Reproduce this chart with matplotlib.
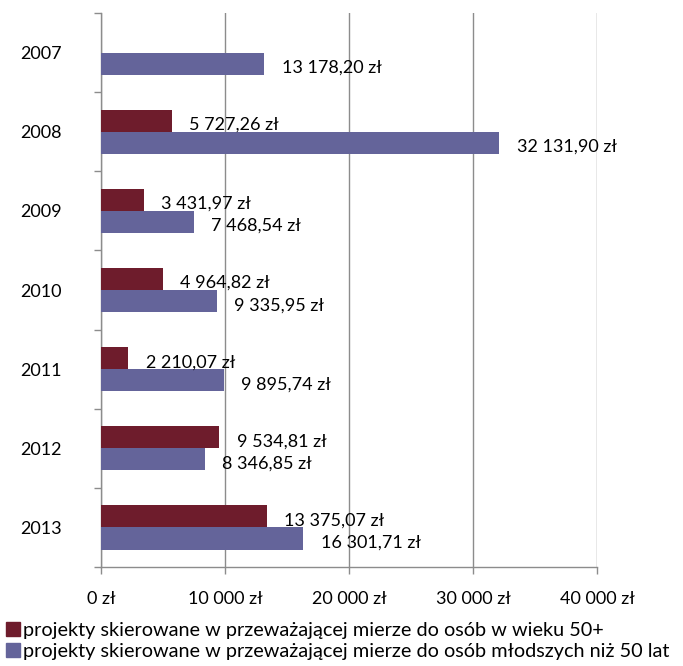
import matplotlib
matplotlib.use("Agg")
import matplotlib.pyplot as plt
from matplotlib.ticker import FuncFormatter, FixedLocator
from matplotlib.patches import Patch
import numpy as np

plt.rcParams['font.family'] = ['Lato', 'DejaVu Sans']

years = ['2007', '2008', '2009', '2010', '2011', '2012', '2013']
older = [0, 5727.26, 3431.97, 4964.82, 2210.07, 9534.81, 13375.07]
younger = [13178.20, 32131.90, 7468.54, 9335.95, 9895.74, 8346.85, 16301.71]
series_names = ['projekty skierowane w przeważającej mierze do osób w wieku 50+',
                'projekty skierowane w przeważającej mierze do osób młodszych niż 50 lat']
xticks = [0, 10000, 20000, 30000, 40000]

c_old = '#6E1C2C'
c_young = '#64649A'
grid_c = '#8C8C8C'
fs = 13


def pln(v, decimals=2):
    s = f"{v:,.{decimals}f}".replace(',', ' ').replace('.', ',')
    return s + ' zł'


fig = plt.figure(figsize=(6.83, 6.66), dpi=100)
ax = fig.add_axes([101 / 683, (666 - 567) / 666, 496 / 683, (567 - 13) / 666])

pos = np.arange(len(years))
h = 0.28
ax.barh(pos - h / 2, older, height=h, color=c_old, zorder=3)
ax.barh(pos + h / 2, younger, height=h, color=c_young, zorder=3)

for p, v in zip(pos, older):
    if v > 0:
        ax.annotate(pln(v), (v, p - h / 2), xytext=(12.5, -3), textcoords='offset points',
                    ha='left', va='center', fontsize=fs, color='black', zorder=4)
for p, v in zip(pos, younger):
    ax.annotate(pln(v), (v, p + h / 2), xytext=(12.5, -3), textcoords='offset points',
                ha='left', va='center', fontsize=fs, color='black', zorder=4)

ax.set_xlim(0, 40000)
ax.set_ylim(len(years) - 0.5, -0.5)
ax.set_xticks(xticks)
ax.xaxis.set_major_formatter(FuncFormatter(lambda v, _: pln(v, 0)))
ax.set_yticks(pos)
ax.set_yticklabels(years)
ax.yaxis.set_minor_locator(FixedLocator(np.arange(-0.5, len(years), 1.0)))
ax.tick_params(axis='y', which='major', length=0, pad=28, labelsize=fs)
ax.tick_params(axis='y', which='minor', length=5, color=grid_c, width=1)
ax.tick_params(axis='x', which='major', length=5, color=grid_c, width=1, pad=12, labelsize=fs)

ax.grid(axis='x', color=grid_c, linewidth=1, zorder=0)
for s in ['top', 'right']:
    ax.spines[s].set_visible(False)
for s in ['left', 'bottom']:
    ax.spines[s].set_color(grid_c)
    ax.spines[s].set_linewidth(1)

handles = [Patch(color=c_old), Patch(color=c_young)]
fig.legend(handles, series_names, loc='lower left', bbox_to_anchor=(0.0, 0.0),
           frameon=False, fontsize=14.3, handlelength=0.7, handleheight=0.7,
           handletextpad=0.15, labelspacing=0.2, borderaxespad=0.1, borderpad=0.2)

fig.savefig('out.png', dpi=100)
